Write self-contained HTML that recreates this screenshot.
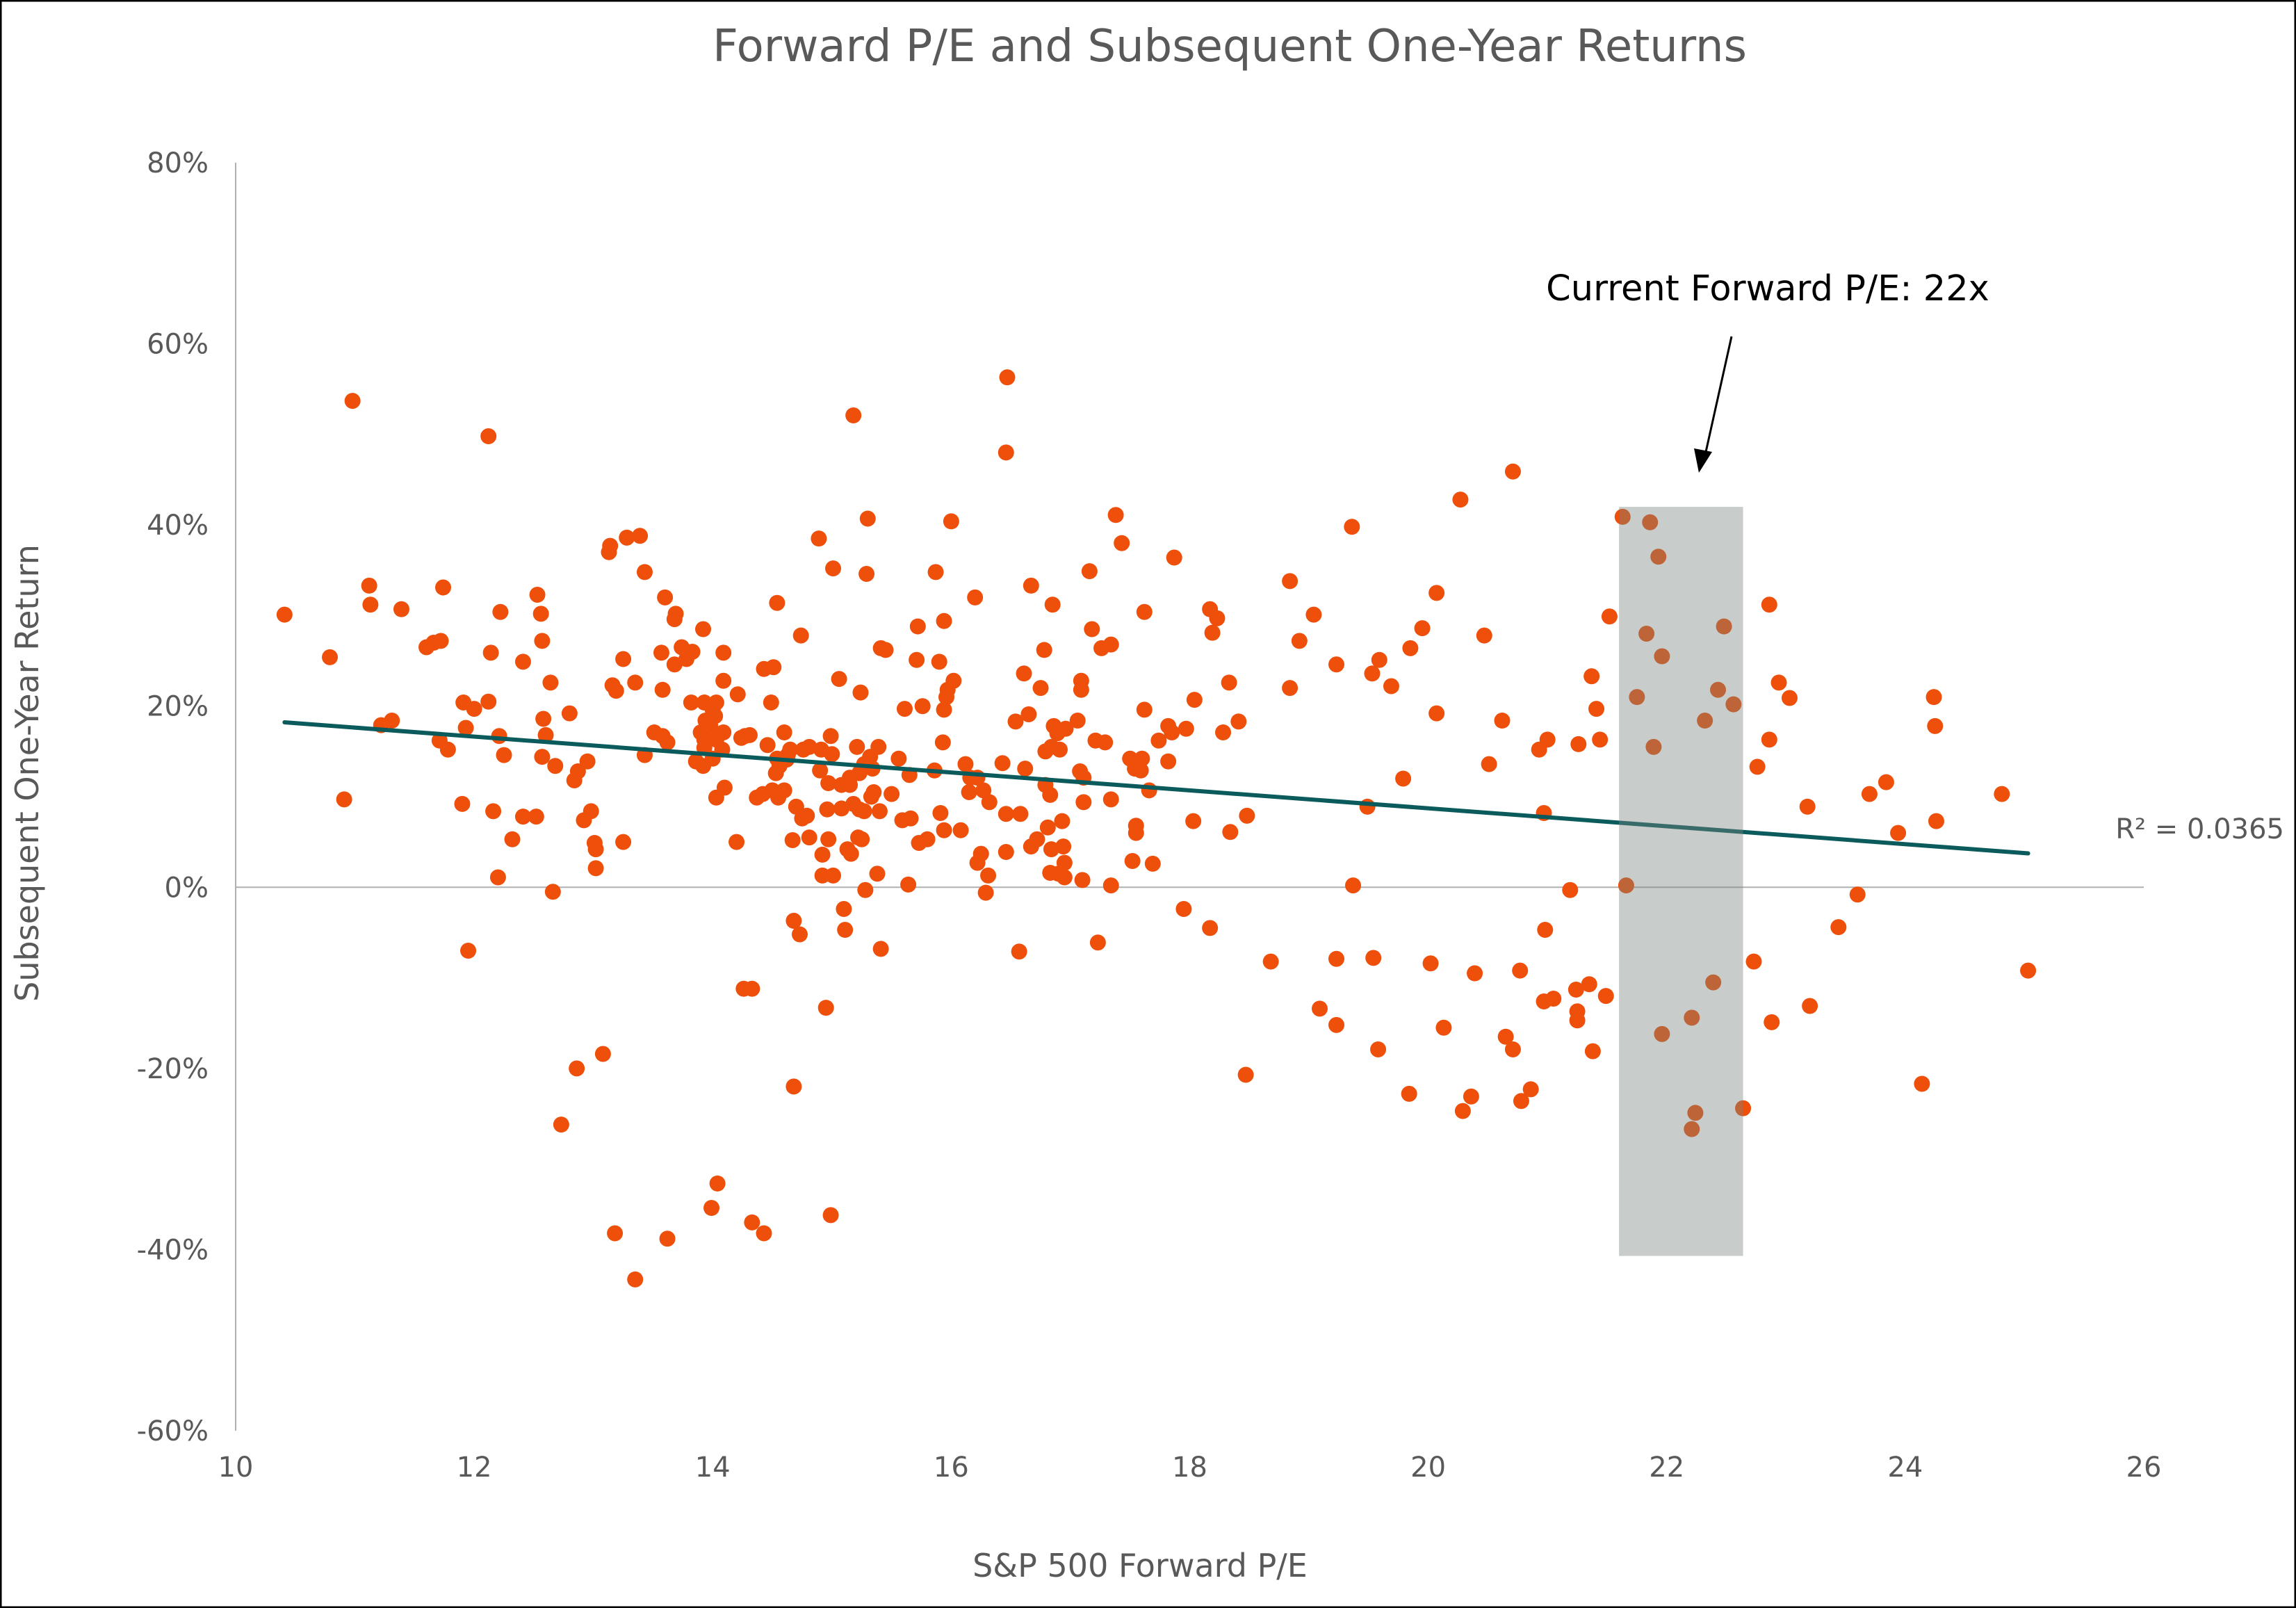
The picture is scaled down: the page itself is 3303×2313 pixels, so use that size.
<!DOCTYPE html>
<html><head><meta charset="utf-8">
<style>
html,body{margin:0;padding:0;background:#fff;}
svg{display:block;}
text{font-family:"DejaVu Sans","Liberation Sans",sans-serif;}
</style></head>
<body>
<svg id="chart" width="3303" height="2313" viewBox="0 0 3303 2313" xmlns="http://www.w3.org/2000/svg">
<rect x="1" y="1" width="3301" height="2311" fill="#fff" stroke="#000" stroke-width="3"/>
<text x="1769" y="88" font-size="64" fill="#595959" text-anchor="middle">Forward P/E and Subsequent One-Year Returns</text>
<text x="1640" y="2268" font-size="46" fill="#595959" text-anchor="middle">S&amp;P 500 Forward P/E</text>
<text transform="translate(55,1112) rotate(-90)" font-size="46" fill="#595959" text-anchor="middle">Subsequent One-Year Return</text>
<g id="grid"></g>
<g id="pts"></g>
<g id="over"></g>
</svg>
<script>
const peVals=[10.41,10.79,10.98,10.91,11.12,11.13,11.22,11.31,11.39,11.6,11.66,11.72,11.74,11.71,11.78,11.9,11.91,11.93,12.0,11.95,12.12,12.14,12.12,12.16,12.22,12.21,12.25,12.2,12.32,12.41,12.41,12.52,12.53,12.56,12.57,12.58,12.6,12.57,12.64,12.68,12.66,12.73,12.8,12.84,12.87,12.86,12.92,12.95,12.98,13.01,13.02,13.02,13.08,13.13,13.14,13.16,13.19,13.18,13.25,13.28,13.25,13.35,13.35,13.39,13.43,13.43,13.51,13.57,13.58,13.58,13.6,13.62,13.62,13.68,13.69,13.68,13.74,13.78,13.83,13.82,13.86,13.9,13.92,13.93,13.93,13.92,13.93,13.94,13.98,14.0,14.03,14.0,14.02,13.99,14.03,14.04,14.03,14.09,14.09,14.08,14.1,14.09,14.2,14.21,14.24,14.27,14.26,14.31,14.33,14.33,14.37,14.42,14.43,14.43,14.46,14.49,14.5,14.51,14.54,14.53,14.54,14.55,14.56,14.6,14.6,14.62,14.63,14.65,14.67,14.68,14.68,14.7,14.73,14.74,14.75,14.76,14.79,14.81,14.81,14.89,14.9,14.91,14.92,14.92,14.95,14.96,14.97,14.97,14.99,15.0,15.01,14.99,15.01,15.06,15.08,15.08,15.1,15.11,15.13,15.15,15.15,15.16,15.18,15.18,15.21,15.22,15.23,15.23,15.24,15.25,15.27,15.27,15.28,15.29,15.3,15.32,15.33,15.34,15.35,15.38,15.39,15.4,15.41,15.41,15.45,15.5,15.56,15.59,15.61,15.64,15.65,15.66,15.71,15.72,15.73,15.76,15.8,15.86,15.87,15.9,15.91,15.94,15.93,15.94,15.94,15.96,15.97,16.0,16.02,16.08,16.12,16.15,16.16,16.2,16.22,16.22,16.25,16.27,16.29,16.31,16.32,16.43,16.46,16.46,16.46,16.47,16.54,16.57,16.58,16.61,16.62,16.65,16.67,16.67,16.72,16.75,16.78,16.79,16.79,16.81,16.83,16.83,16.84,16.84,16.85,16.86,16.89,16.9,16.91,16.93,16.94,16.96,16.95,16.95,17.06,17.08,17.09,17.09,17.11,17.11,17.1,17.16,17.18,17.21,17.23,17.26,17.29,17.34,17.34,17.34,17.38,17.43,17.5,17.52,17.54,17.56,17.55,17.55,17.59,17.6,17.62,17.62,17.66,17.69,17.74,17.82,17.82,17.85,17.87,17.95,17.97,18.03,18.04,18.17,18.17,18.19,18.23,18.28,18.33,18.34,18.41,18.47,18.48,18.68,18.84,18.84,18.92,19.04,19.09,19.23,19.23,19.23,19.36,19.37,19.49,19.53,19.54,19.58,19.59,19.69,19.79,19.84,19.85,19.95,20.02,20.07,20.07,20.13,20.27,20.29,20.36,20.39,20.47,20.51,20.62,20.65,20.71,20.71,20.77,20.78,20.86,20.93,20.97,20.98,20.97,21.0,21.05,21.19,21.24,21.25,21.25,21.26,21.35,21.37,21.38,21.41,21.44,21.49,21.52,21.63,21.66,21.75,21.83,21.86,21.89,21.93,21.96,21.96,22.21,22.21,22.24,22.32,22.39,22.43,22.48,22.56,22.64,22.73,22.76,22.86,22.86,22.88,22.94,23.03,23.18,23.2,23.44,23.6,23.7,23.84,23.94,24.14,24.24,24.25,24.26,24.81,25.03];
const retVals=[30.1,25.4,53.7,9.7,33.3,31.2,17.9,18.4,30.7,26.5,27.0,27.2,33.1,16.2,15.2,9.2,20.4,17.6,19.7,-7.0,49.8,25.9,20.5,8.4,30.4,16.7,14.6,1.1,5.3,24.9,7.8,7.8,32.3,30.2,27.2,18.6,16.8,14.4,22.6,13.4,-0.5,-26.2,19.2,11.8,12.8,-20.0,7.4,13.9,8.4,4.9,4.2,2.1,-18.4,37.0,37.7,22.3,21.7,-38.2,25.2,38.6,5.0,22.6,-43.3,38.8,34.8,14.6,17.1,25.9,21.8,16.7,32.0,16.0,-38.8,29.6,30.2,24.6,26.5,25.2,26.0,20.4,13.9,17.1,28.5,16.3,20.4,13.4,15.4,18.4,17.8,19.6,20.4,14.2,18.9,-35.4,16.3,-32.7,9.9,25.9,22.8,15.2,11.0,17.1,5.0,21.3,16.5,16.7,-11.2,16.8,-11.2,-37.0,9.9,10.3,24.1,-38.2,15.7,20.4,10.7,24.3,31.4,12.6,14.2,9.9,13.4,17.1,10.7,14.1,14.6,15.2,5.2,-3.7,-22.0,8.9,-5.2,27.8,7.6,15.2,7.9,5.5,15.5,38.5,12.9,15.2,3.6,1.3,-13.3,8.6,5.3,11.5,16.7,14.7,35.2,-36.2,1.3,23.0,11.3,8.7,-2.4,-4.7,4.2,11.3,12.1,3.7,52.1,9.2,15.5,5.5,12.6,8.6,21.5,5.3,13.6,8.4,-0.3,34.6,40.7,14.4,10.0,13.1,10.5,1.5,15.5,8.4,-6.8,26.4,26.2,10.3,14.2,7.4,19.7,0.3,12.4,7.6,25.1,28.8,4.9,20.0,5.3,12.9,34.8,24.9,8.2,6.3,16.0,29.4,19.6,21.0,21.8,40.4,22.8,6.3,13.6,10.5,12.1,32.0,2.7,12.1,3.7,10.7,-0.6,1.3,9.4,13.7,3.9,8.1,48.0,56.3,18.3,-7.1,8.1,23.6,13.1,19.1,33.3,4.5,5.3,22.0,26.2,11.3,15.0,6.6,10.2,1.6,15.5,4.2,31.2,17.8,17.0,1.5,15.2,7.3,4.5,17.5,2.7,1.1,18.4,12.8,21.8,22.8,12.1,9.4,0.8,34.9,28.5,16.2,-6.1,26.4,16.0,26.8,9.7,0.2,41.1,38.0,14.2,2.9,13.1,13.7,6.8,6.0,12.9,14.2,19.6,30.4,10.7,2.6,16.2,13.9,17.8,17.1,36.4,-2.4,17.5,7.3,20.7,30.7,-4.5,28.1,29.7,17.1,22.6,6.1,18.3,-20.7,7.9,-8.2,33.8,22.0,27.2,30.1,-13.4,-7.9,-15.2,24.6,39.8,0.2,8.9,23.6,-7.8,-17.9,25.1,22.2,12.0,-22.8,26.4,28.6,-8.4,32.5,19.2,-15.5,42.8,-24.7,-23.1,-9.5,27.8,13.6,18.4,-16.5,-17.9,45.9,-9.2,-23.6,-22.3,15.2,-12.6,-4.7,8.2,16.3,-12.3,-0.3,-11.3,-13.7,-14.7,15.8,-10.7,23.3,-18.1,19.7,16.3,-12.0,29.9,40.9,0.2,21.0,28.0,40.3,15.5,36.5,25.5,-16.2,-14.4,-26.7,-24.9,18.4,-10.5,21.8,28.8,20.2,-24.4,-8.2,13.3,31.2,16.3,-14.9,22.6,20.9,8.9,-13.1,-4.4,-0.8,10.3,11.6,6.0,-21.7,21.0,17.8,7.3,10.3,-9.2];
const xTicks=[10,12,14,16,18,20,22,24,26];
const yTicks=[80,60,40,20,0,-20,-40,-60];
const highlightRange=[21.6,22.64];
const highlightRet=[42,-40.7];
const r2Label=["R² = 0.0365"];

const NS="http://www.w3.org/2000/svg";
const X0=339,X1=3084,Y0=2058,Y1=234;
function xs(v){return X0+(v-10)/(26-10)*(X1-X0);}
function ys(v){return Y0-(v+60)/(140)*(Y0-Y1);}
function mk(tag,attrs,parent){const e=document.createElementNS(NS,tag);for(const k in attrs)e.setAttribute(k,attrs[k]);parent.appendChild(e);return e;}
const grid=document.getElementById('grid'),pts=document.getElementById('pts'),over=document.getElementById('over');

let e=mk('line',{x1:X0,y1:Y1,x2:X0,y2:Y0,stroke:'#b0b0b0','stroke-width':2},grid);


e=mk('line',{x1:X0,y1:ys(0),x2:X1,y2:ys(0),stroke:'#b0b0b0','stroke-width':2},grid);


yTicks.forEach(t=>{
  const tx=mk('text',{x:300,y:ys(t)+14,'font-size':40,fill:'#595959','text-anchor':'end'},grid);
  tx.textContent=t+'%';
  
  
});
xTicks.forEach(t=>{
  const tx=mk('text',{x:xs(t),y:2124,'font-size':40,fill:'#595959','text-anchor':'middle'},grid);
  tx.textContent=t;
  
  
});
peVals.forEach((p,i)=>{
  const c=mk('circle',{cx:xs(p),cy:ys(retVals[i]),r:11.5,fill:'#EE4F0A'},pts);
  
  
});
const n=peVals.length;let sx=0,sy=0,sxx=0,sxy=0;
for(let i=0;i<n;i++){sx+=peVals[i];sy+=retVals[i];sxx+=peVals[i]*peVals[i];sxy+=peVals[i]*retVals[i];}
const slope=(n*sxy-sx*sy)/(n*sxx-sx*sx),icpt=(sy-slope*sx)/n;
const xmin=Math.min(...peVals),xmax=Math.max(...peVals);
e=mk('line',{x1:xs(xmin),y1:ys(icpt+slope*xmin),x2:xs(xmax),y2:ys(icpt+slope*xmax),stroke:'#0B5A5C','stroke-width':6,'stroke-linecap':'round'},pts);


e=mk('rect',{x:xs(highlightRange[0]),y:ys(highlightRet[0]),width:xs(highlightRange[1])-xs(highlightRange[0]),height:ys(highlightRet[1])-ys(highlightRet[0]),fill:'#79827E','fill-opacity':0.41},over);


e=mk('text',{x:3286,y:1206,'font-size':40,fill:'#595959','text-anchor':'end'},over);
e.textContent=r2Label[0];


e=mk('text',{x:2543,y:432,'font-size':51,fill:'#000','text-anchor':'middle'},over);
e.textContent='Current Forward P/E: 22x';


e=mk('line',{x1:2491,y1:484,x2:2454,y2:650,stroke:'#000','stroke-width':3},over);


e=mk('polygon',{points:'2444,680 2437,645 2463,650'},over);


</script>
</body></html>
